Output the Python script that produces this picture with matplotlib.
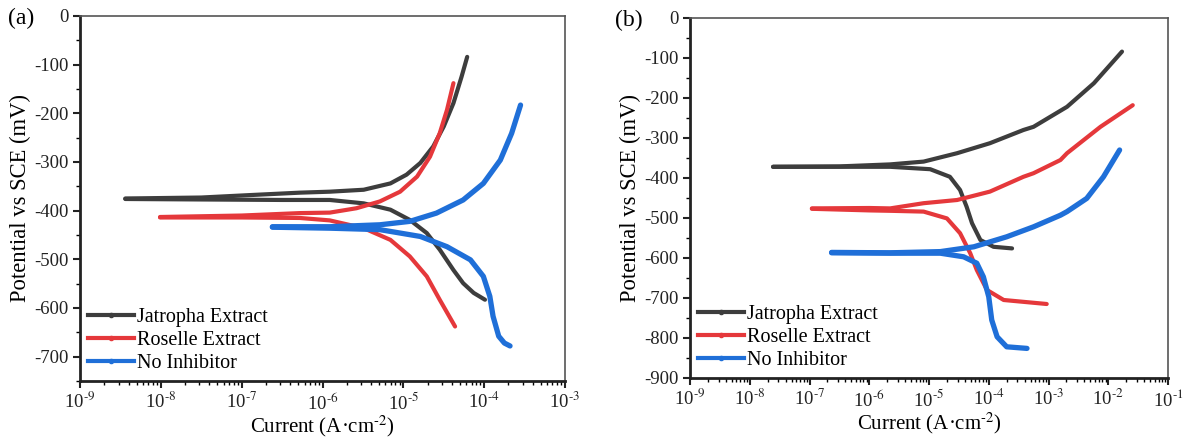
import numpy as np
import matplotlib
matplotlib.use("Agg")
import matplotlib.pyplot as plt
from matplotlib.lines import Line2D
from matplotlib.ticker import FixedLocator, FixedFormatter, MultipleLocator, NullFormatter

plt.rcParams['font.family'] = ['Liberation Serif', 'DejaVu Serif']
plt.rcParams['mathtext.fontset'] = 'stix'
plt.rcParams['axes.unicode_minus'] = False

labels = ["Jatropha Extract", "Roselle Extract", "No Inhibitor"]
colors = ["#3d3d3d", "#e5383b", "#1f6fd8"]

# x tick decades (exponents) for each panel
a_decades = [-9, -8, -7, -6, -5, -4, -3]
b_decades = [-9, -8, -7, -6, -5, -4, -3, -2, -1]

# Panel (a): log10(current density), potential (mV); anodic (upper) and cathodic (lower) branches
a_jat_up_logI = [-8.44, -7.5, -6.9, -6.28, -5.91, -5.49, -5.16, -4.96, -4.79, -4.63, -4.50, -4.38, -4.28, -4.21]
a_jat_up_E    = [-375, -373, -368, -363, -361, -357, -344, -326, -302, -268, -227, -179, -125, -84]
a_jat_lo_logI = [-8.44, -7.5, -6.5, -5.91, -5.49, -5.16, -4.92, -4.71, -4.55, -4.38, -4.26, -4.13, -3.99]
a_jat_lo_E    = [-376, -377, -378, -378, -385, -398, -419, -446, -480, -522, -549, -569, -583]

a_ros_up_logI = [-8.01, -7.0, -6.28, -5.91, -5.58, -5.29, -5.04, -4.83, -4.67, -4.55, -4.46, -4.38]
a_ros_up_E    = [-413, -410, -405, -404, -395, -381, -361, -330, -289, -241, -193, -138]
a_ros_lo_logI = [-8.01, -7.0, -6.28, -5.91, -5.49, -5.16, -4.92, -4.71, -4.55, -4.36]
a_ros_lo_E    = [-414, -414, -415, -420, -436, -460, -494, -535, -583, -638]

a_noi_up_logI = [-6.62, -6.0, -5.91, -5.29, -4.92, -4.59, -4.26, -4.01, -3.80, -3.66, -3.55]
a_noi_up_E    = [-433, -433, -433, -429, -422, -405, -378, -344, -296, -241, -183]
a_noi_lo_logI = [-6.62, -5.91, -5.29, -4.79, -4.46, -4.17, -4.01, -3.93, -3.89, -3.82, -3.75, -3.68]
a_noi_lo_E    = [-434, -436, -439, -453, -474, -501, -535, -576, -617, -658, -672, -678]

# Panel (b)
b_jat_up_logI = [-7.61, -6.5, -5.65, -5.09, -4.53, -3.98, -3.42, -3.25, -2.69, -2.24, -1.77]
b_jat_up_E    = [-372, -371, -366, -359, -338, -313, -280, -272, -222, -163, -84]
b_jat_lo_logI = [-7.61, -6.5, -5.65, -4.98, -4.65, -4.48, -4.37, -4.28, -4.14, -3.92, -3.61]
b_jat_lo_E    = [-372, -372, -372, -378, -397, -430, -472, -513, -555, -572, -576]

b_ros_up_logI = [-6.96, -6.0, -5.65, -5.09, -4.53, -3.98, -3.42, -3.25, -2.80, -2.69, -2.13, -1.59]
b_ros_up_E    = [-476, -475, -476, -463, -455, -434, -397, -388, -355, -338, -272, -218]
b_ros_lo_logI = [-6.96, -6.0, -5.65, -5.09, -4.70, -4.48, -4.31, -4.20, -4.03, -3.75, -3.03]
b_ros_lo_E    = [-477, -481, -482, -484, -501, -538, -588, -630, -680, -705, -715]

b_noi_up_logI = [-6.63, -5.65, -4.81, -4.25, -3.70, -3.25, -2.80, -2.69, -2.36, -2.08, -1.81]
b_noi_up_E    = [-586, -587, -584, -572, -547, -522, -493, -484, -451, -397, -330]
b_noi_lo_logI = [-6.63, -5.65, -4.81, -4.42, -4.20, -4.09, -4.00, -3.95, -3.86, -3.70, -3.36]
b_noi_lo_E    = [-587, -588, -588, -597, -613, -647, -697, -755, -797, -822, -826]

panel_a = [(a_jat_up_logI, a_jat_up_E, a_jat_lo_logI, a_jat_lo_E),
           (a_ros_up_logI, a_ros_up_E, a_ros_lo_logI, a_ros_lo_E),
           (a_noi_up_logI, a_noi_up_E, a_noi_lo_logI, a_noi_lo_E)]
panel_b = [(b_jat_up_logI, b_jat_up_E, b_jat_lo_logI, b_jat_lo_E),
           (b_ros_up_logI, b_ros_up_E, b_ros_lo_logI, b_ros_lo_E),
           (b_noi_up_logI, b_noi_up_E, b_noi_lo_logI, b_noi_lo_E)]

W, H = 1201, 438
fig = plt.figure(figsize=(W / 100, H / 100), dpi=100)

ax1 = fig.add_axes([80 / W, (H - 381) / H, (565 - 80) / W, (381 - 16) / H])
ax2 = fig.add_axes([690 / W, (H - 378) / H, (1168 - 690) / W, (378 - 18) / H])

lws = [3.0, 3.0, 3.8]


def style(ax, decades, ylim, ymajor):
    ax.set_xscale('log')
    ax.set_xlim(10.0 ** decades[0], 10.0 ** decades[-1])
    ax.set_ylim(*ylim)
    majors = [10.0 ** d for d in decades]
    minors = [m * 10.0 ** d for d in decades[:-1] for m in range(2, 10)]
    ax.xaxis.set_major_locator(FixedLocator(majors))
    ax.xaxis.set_major_formatter(FixedFormatter([r'10$^{\text{-}%d}$' % (-d) for d in decades]))
    ax.xaxis.set_minor_locator(FixedLocator(minors))
    ax.xaxis.set_minor_formatter(NullFormatter())
    ax.yaxis.set_major_locator(MultipleLocator(ymajor))
    ax.yaxis.set_minor_locator(MultipleLocator(ymajor / 2))
    ax.tick_params(which='major', direction='out', length=5, width=1.5, labelsize=13.5, colors='#222222')
    ax.tick_params(which='minor', direction='out', length=3, width=1.0)
    ax.tick_params(axis='x', pad=3)
    for s in ['left', 'bottom']:
        ax.spines[s].set_linewidth(2.0)
        ax.spines[s].set_color('#222222')
    for s in ['top', 'right']:
        ax.spines[s].set_linewidth(1.2)
        ax.spines[s].set_color('#555555')
    ax.set_ylabel('Potential vs SCE (mV)', fontsize=16.3, labelpad=2)
    ax.set_xlabel('Current (A·cm$^{\\text{-}2}$)', fontsize=15, labelpad=-0.5)


def draw(ax, data):
    for (ul, ue, ll, le), c, lw in zip(data, colors, lws):
        ax.plot(10 ** np.array(ul), ue, color=c, lw=lw, solid_capstyle='round',
                solid_joinstyle='round', zorder=3)
        ax.plot(10 ** np.array(ll), le, color=c, lw=lw, solid_capstyle='round',
                solid_joinstyle='round', zorder=3)


draw(ax1, panel_a)
draw(ax2, panel_b)
style(ax1, a_decades, (-750, 0), 100)
style(ax2, b_decades, (-900, 0), 100)

handles = [Line2D([], [], color=c, lw=3, marker='o', markersize=3) for c in colors]
for ax in (ax1, ax2):
    ax.legend(handles, labels, loc='lower left', frameon=False, fontsize=14.5,
              handlelength=2.3, handletextpad=0.15, labelspacing=0.2,
              borderaxespad=0.1, borderpad=0.3, bbox_to_anchor=(0.0, 0.0))

fig.text(8 / W, 1 - 18 / H, '(a)', fontsize=17, va='center', ha='left')
fig.text(615 / W, 1 - 20 / H, '(b)', fontsize=17, va='center', ha='left')

fig.savefig('out.png', dpi=100)
